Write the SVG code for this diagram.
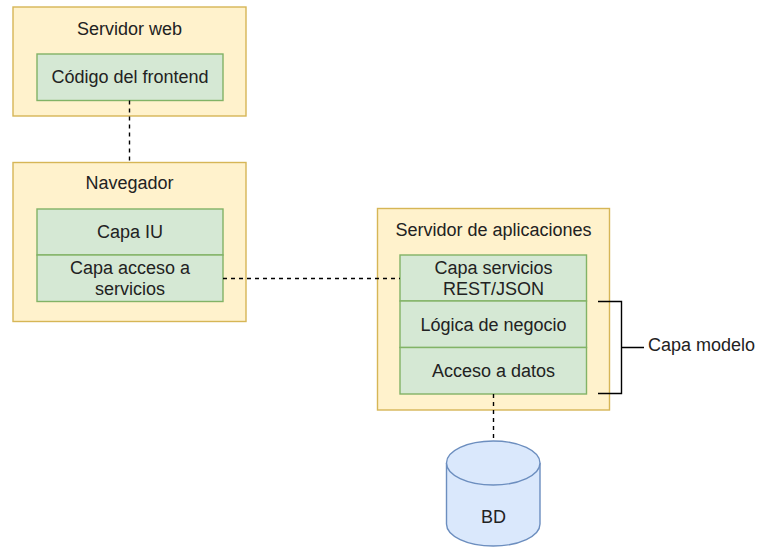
<svg xmlns="http://www.w3.org/2000/svg" width="758" height="549" viewBox="0 0 758 549">
<style>
.c{fill:#fff2cc;stroke:#d6b656;stroke-width:1.4}
.g{fill:#d5e8d4;stroke:#82b366;stroke-width:1.4}
.d{fill:#dae8fc;stroke:#6c8ebf;stroke-width:1.4}
text{font-family:"Liberation Sans",Arial,sans-serif;font-size:18px;fill:#222;text-anchor:middle;dominant-baseline:central}
.e{fill:none;stroke:#000;stroke-width:1.4;stroke-dasharray:4 4}
.b{fill:none;stroke:#000;stroke-width:1.4}
</style>
<rect width="758" height="549" fill="#fff"/>
<g id="servidor-web">
<rect class="c" x="13" y="7" width="233" height="109"/>
<text x="129.5" y="29">Servidor web</text>
</g>
<g id="codigo-frontend">
<rect class="g" x="37" y="54" width="186" height="46.5"/>
<text x="130" y="77">Código del frontend</text>
</g>
<g id="navegador">
<rect class="c" x="13" y="162.5" width="233" height="159"/>
<text x="129.5" y="183">Navegador</text>
</g>
<g id="capa-iu">
<rect class="g" x="37" y="209" width="186" height="46"/>
<text x="130" y="232">Capa IU</text>
</g>
<g id="capa-acceso">
<rect class="g" x="37" y="255" width="186" height="46.5"/>
<text x="130" y="268">Capa acceso a</text>
<text x="130" y="289">servicios</text>
</g>
<g id="servidor-aplicaciones">
<rect class="c" x="377.5" y="208.5" width="232" height="201.5"/>
<text x="493.5" y="230">Servidor de aplicaciones</text>
</g>
<g id="capa-servicios">
<rect class="g" x="400" y="255" width="186.5" height="46"/>
<text x="493.5" y="268">Capa servicios</text>
<text x="493.5" y="289">REST/JSON</text>
</g>
<g id="logica-negocio">
<rect class="g" x="400" y="301" width="186.5" height="46.5"/>
<text x="493.5" y="325">Lógica de negocio</text>
</g>
<g id="acceso-datos">
<rect class="g" x="400" y="347.5" width="186.5" height="46.5"/>
<text x="493.5" y="371">Acceso a datos</text>
</g>
<g id="bd">
<path class="d" d="M446.5,463 A46.7,22 0 0 1 540,463 L540,524 A46.7,22 0 0 1 446.5,524 Z"/>
<path class="d" d="M446.5,463 A46.7,22 0 0 0 540,463"/>
<text x="493.5" y="517">BD</text>
</g>
<g id="capa-modelo">
<path class="b" d="M598,301.5 H621.5 V393.5 H598 M621.5,347.5 H644"/>
<text x="648" y="345" style="text-anchor:start">Capa modelo</text>
</g>
<g id="connectors">
<path class="e" d="M129.5,100.5 V162.5"/>
<path class="e" d="M223,278.5 H400"/>
<path class="e" d="M493.5,394 V441"/>
</g>
</svg>
